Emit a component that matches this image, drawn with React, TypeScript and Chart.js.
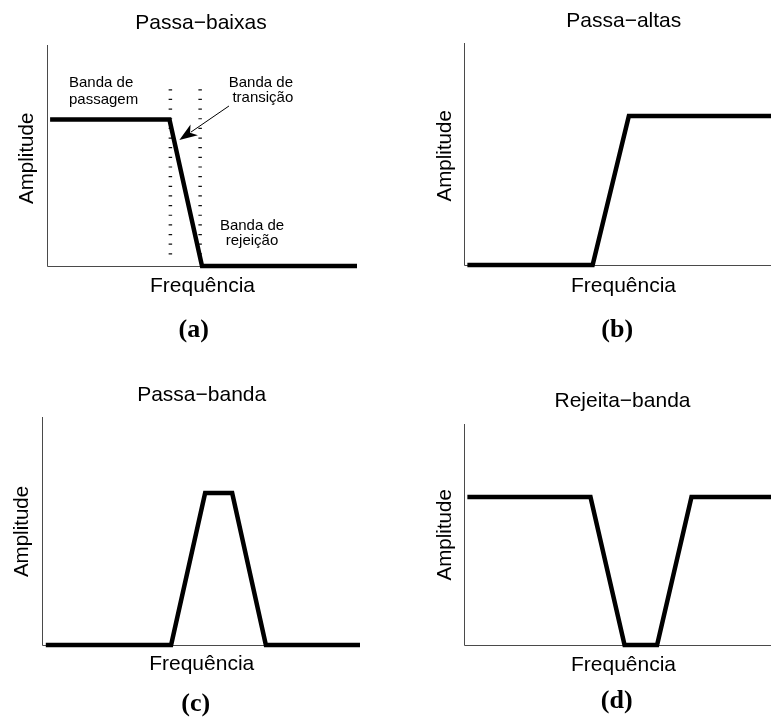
import React, { useEffect, useRef } from "react";
import { Chart, registerables } from "chart.js";

Chart.register(...registerables);

// ---------- data (abstract units: frequency 0..100, amplitude 0..1) ----------
const freqLowpass = [1, 39.5, 50, 100];
const ampLowpass = [0.663, 0.663, 0, 0];

const freqHighpass = [1.1, 41.9, 53.7, 100];
const ampHighpass = [0, 0, 0.671, 0.671];

const freqBandpass = [1.2, 40.6, 51.3, 59.8, 70.4, 100];
const ampBandpass = [0, 0, 0.667, 0.667, 0, 0];

const freqBandstop = [1.1, 41.2, 52.3, 62.9, 74.1, 100];
const ampBandstop = [0.67, 0.67, 0, 0, 0.67, 0.67];

// transition-band guides in panel (a)
const guideFreqs = [39.8, 49.4];
const guideAmpRange = [0.8, 0.018];

// arrow in panel (a): tail -> tip
const arrowFreqs = [58.7, 42.7];
const arrowAmps = [0.724, 0.57];

const panelTitles = ["Passa\u2212baixas", "Passa\u2212altas", "Passa\u2212banda", "Rejeita\u2212banda"];
const panelLetters = ["(a)", "(b)", "(c)", "(d)"];
const xLabel = "Frequência";
const yLabel = "Amplitude";
const annotLeft = ["Banda de", "passagem"];
const annotTrans = ["Banda de", "transição"];
const annotStop = ["Banda de", "rejeição"];

// ---------- layout ----------
const W = 771;
const H = 718;
const SANS = "'Liberation Sans', Arial, Helvetica, sans-serif";
const SERIF = "'Liberation Serif', 'Times New Roman', serif";

type Layout = {
  area: { left: number; top: number; right: number; bottom: number };
  title: [number, number];
  ylab: [number, number];
  xlab: [number, number];
  letter: [number, number];
};

const layouts: Layout[] = [
  { area: { left: 47, top: 45, right: 357, bottom: 266 }, title: [201, 29.3], ylab: [33.3, 158.3], xlab: [202.5, 292.3], letter: [193.7, 337] },
  { area: { left: 464, top: 43, right: 771, bottom: 265 }, title: [623.8, 27.3], ylab: [450.5, 155.8], xlab: [623.5, 291.5], letter: [617.2, 337] },
  { area: { left: 42, top: 417, right: 360, bottom: 645 }, title: [201.7, 400.7], ylab: [28.3, 531.5], xlab: [201.7, 669.7], letter: [195.8, 710.5] },
  { area: { left: 464, top: 424, right: 771, bottom: 645 }, title: [622.5, 407.3], ylab: [450.5, 534.8], xlab: [623.5, 670.7], letter: [616.7, 707.7] },
];

const seriesList = [
  [freqLowpass, ampLowpass],
  [freqHighpass, ampHighpass],
  [freqBandpass, ampBandpass],
  [freqBandstop, ampBandstop],
];

function toPoints(xs: number[], ys: number[]) {
  return xs.map((x, i) => ({ x, y: ys[i] }));
}

function makeDecor(idx: number) {
  const L = layouts[idx];
  return {
    id: "decor" + idx,
    beforeDatasetsDraw(chart: any) {
      const ctx = chart.ctx;
      const a = chart.chartArea;
      ctx.save();
      ctx.strokeStyle = "#4a4a4a";
      ctx.lineWidth = 1;
      ctx.beginPath();
      ctx.moveTo(a.left + 0.5, a.top);
      ctx.lineTo(a.left + 0.5, a.bottom + 0.5);
      ctx.lineTo(a.right, a.bottom + 0.5);
      ctx.stroke();
      ctx.restore();
    },
    afterDraw(chart: any) {
      const ctx = chart.ctx;
      ctx.save();
      ctx.fillStyle = "#000";
      ctx.textBaseline = "alphabetic";
      ctx.textAlign = "center";
      ctx.font = `21px ${SANS}`;
      ctx.fillText(panelTitles[idx], L.title[0], L.title[1]);
      ctx.fillText(xLabel, L.xlab[0], L.xlab[1]);
      ctx.save();
      ctx.translate(L.ylab[0], L.ylab[1]);
      ctx.rotate(-Math.PI / 2);
      ctx.font = `20.5px ${SANS}`;
      ctx.fillText(yLabel, 0, 0);
      ctx.restore();
      ctx.font = `bold 26px ${SERIF}`;
      ctx.fillText(panelLetters[idx], L.letter[0], L.letter[1]);

      if (idx === 0) {
        ctx.font = `15px ${SANS}`;
        ctx.textAlign = "left";
        ctx.fillText(annotLeft[0], 69, 86.7);
        ctx.fillText(annotLeft[1], 69, 104.3);
        ctx.textAlign = "right";
        ctx.fillText(annotTrans[0], 293, 86.7);
        ctx.fillText(annotTrans[1], 293.3, 101.7);
        ctx.textAlign = "center";
        ctx.fillText(annotStop[0], 252, 230);
        ctx.fillText(annotStop[1], 252, 245);

        // arrow
        const xs = chart.scales.x;
        const ys = chart.scales.y;
        const x0 = xs.getPixelForValue(arrowFreqs[0]);
        const y0 = ys.getPixelForValue(arrowAmps[0]);
        const x1 = xs.getPixelForValue(arrowFreqs[1]);
        const y1 = ys.getPixelForValue(arrowAmps[1]);
        const ang = Math.atan2(y1 - y0, x1 - x0);
        const headLen = 18;
        const headHalf = 6.5;
        const ux = Math.cos(ang), uy = Math.sin(ang);
        const px = -uy, py = ux;
        const bx = x1 - ux * headLen, by = y1 - uy * headLen;
        ctx.strokeStyle = "#000";
        ctx.lineWidth = 1;
        ctx.beginPath();
        ctx.moveTo(x0, y0);
        ctx.lineTo(bx + ux * 4, by + uy * 4);
        ctx.stroke();
        ctx.beginPath();
        ctx.moveTo(x1, y1);
        ctx.lineTo(bx + px * headHalf, by + py * headHalf);
        ctx.lineTo(bx + ux * 5, by + uy * 5);
        ctx.lineTo(bx - px * headHalf, by - py * headHalf);
        ctx.closePath();
        ctx.fillStyle = "#000";
        ctx.fill();
      }
      ctx.restore();
    },
  };
}

function Panel({ idx }: { idx: number }) {
  const ref = useRef<HTMLCanvasElement | null>(null);
  useEffect(() => {
    if (!ref.current) return;
    const L = layouts[idx];
    const [fx, ay] = seriesList[idx];
    const datasets: any[] = [
      {
        data: toPoints(fx, ay),
        borderColor: "#000",
        borderWidth: 4.5,
        borderJoinStyle: "miter",
        borderCapStyle: "butt",
        pointRadius: 0,
        tension: 0,
        fill: false,
        clip: false,
        order: 0,
      },
    ];
    if (idx === 0) {
      guideFreqs.forEach((g) => {
        datasets.push({
          data: toPoints([g, g], guideAmpRange),
          borderColor: "#111",
          borderWidth: 3.5,
          borderDash: [1.2, 8.45],
          borderCapStyle: "butt",
          pointRadius: 0,
          fill: false,
          clip: false,
          order: 1,
        });
      });
    }
    const chart = new Chart(ref.current, {
      type: "line",
      data: { datasets },
      options: {
        animation: false,
        responsive: false,
        devicePixelRatio: 1,
        events: [],
        layout: {
          padding: {
            left: L.area.left,
            top: L.area.top,
            right: W - L.area.right,
            bottom: H - L.area.bottom,
          },
        },
        plugins: {
          legend: { display: false },
          tooltip: { enabled: false },
          title: { display: false },
        },
        scales: {
          x: { type: "linear", display: false, min: 0, max: 100 },
          y: { type: "linear", display: false, min: 0, max: 1 },
        },
      } as any,
      plugins: [makeDecor(idx)],
    });
    return () => chart.destroy();
  }, [idx]);
  return (
    <canvas
      ref={ref}
      width={W}
      height={H}
      style={{ position: "absolute", left: 0, top: 0, width: W, height: H }}
    />
  );
}

export default function App() {
  return (
    <div
      style={{
        position: "absolute",
        left: 0,
        top: 0,
        width: W,
        height: H,
        overflow: "hidden",
        background: "#fff",
      }}
    >
      {[0, 1, 2, 3].map((i) => (
        <Panel key={i} idx={i} />
      ))}
    </div>
  );
}
